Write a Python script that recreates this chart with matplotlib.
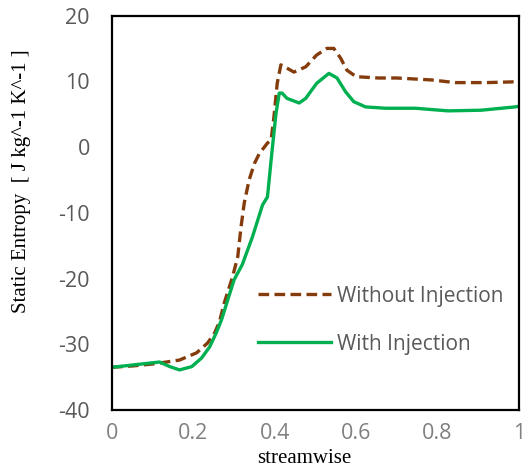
import matplotlib.pyplot as plt
import matplotlib.ticker as mticker

plt.rcParams["axes.unicode_minus"] = False

# Without injection
x_without = [0.0, 0.05, 0.10, 0.134, 0.166, 0.208, 0.235, 0.252, 0.264, 0.276, 0.296, 0.309,
             0.317, 0.325, 0.337, 0.35, 0.362, 0.382, 0.391, 0.398, 0.406, 0.415, 0.430,
             0.447, 0.476, 0.503, 0.528, 0.545, 0.562, 0.577, 0.60, 0.655, 0.70, 0.786,
             0.843, 0.92, 0.98, 1.0]
y_without = [-33.5, -33.3, -33.0, -32.7, -32.4, -31.3, -29.8, -28.3, -26.6, -23.7, -19.8, -16.7,
             -12.2, -8.5, -5.0, -2.5, -1.0, 0.6, 1.1, 4.6, 9.7, 12.5, 12.0,
             11.4, 12.2, 14.0, 15.0, 15.0, 13.5, 11.7, 10.7, 10.5, 10.5, 10.2,
             9.8, 9.8, 9.9, 10.0]

# With injection
x_with = [0.0, 0.044, 0.117, 0.142, 0.166, 0.196, 0.22, 0.24, 0.256, 0.269, 0.30, 0.32,
          0.345, 0.37, 0.382, 0.391, 0.396, 0.403, 0.411, 0.418, 0.430, 0.46, 0.476,
          0.503, 0.533, 0.553, 0.574, 0.594, 0.623, 0.672, 0.745, 0.826, 0.907, 0.99, 1.0]
y_with = [-33.5, -33.2, -32.7, -33.4, -33.9, -33.4, -32.1, -30.4, -28.3, -26.3, -20.2, -17.9,
          -13.7, -8.8, -7.6, -2.0, 1.0, 5.1, 8.2, 8.2, 7.4, 6.7, 7.4,
          9.7, 11.2, 10.5, 8.4, 6.9, 6.1, 5.9, 5.9, 5.5, 5.6, 6.1, 6.2]

fig = plt.figure(figsize=(5.23, 4.71), dpi=100)
ax = fig.add_axes([0.2141, 0.1295, 0.7782, 0.8375])

ax.plot(x_without, y_without, color="#843C0C", linewidth=2.4, dashes=(3.2, 1.6),
        label="Without Injection")
ax.plot(x_with, y_with, color="#00B050", linewidth=2.4, label="With Injection")

ax.set_xlim(0, 1)
ax.set_ylim(-40, 20)
ax.xaxis.set_major_locator(mticker.MultipleLocator(0.2))
ax.yaxis.set_major_locator(mticker.MultipleLocator(10))
ax.xaxis.set_major_formatter(mticker.FuncFormatter(lambda v, _: f"{v:g}"))
ax.tick_params(length=0)
ax.tick_params(axis="x", pad=9)
ax.tick_params(axis="y", pad=16)
for lab in ax.get_xticklabels():
    lab.set_fontfamily("Open Sans")
    lab.set_fontsize(15.5)
    lab.set_color("#808080")
for lab in ax.get_yticklabels():
    lab.set_fontfamily("Open Sans")
    lab.set_fontsize(15.5)
    lab.set_color("#595959")

for s in ax.spines.values():
    s.set_linewidth(1.6)
    s.set_color("black")

ax.set_xlabel("streamwise", fontfamily="Liberation Serif", fontsize=15)
ax.xaxis.set_label_coords(0.472, -0.10)
ax.set_ylabel("Static Entropy  [ J kg^-1 K^-1 ]", fontfamily="Liberation Serif",
              fontsize=15)
ax.yaxis.set_label_coords(-0.2, 0.58)

leg = ax.legend(loc="center left", bbox_to_anchor=(0.359, 0.228), frameon=False,
                prop={"family": "Open Sans", "size": 15}, handlelength=3.5,
                handletextpad=0.3, labelspacing=1.3, borderaxespad=0, borderpad=0)
for t in leg.get_texts():
    t.set_color("#595959")

plt.savefig("out.png", dpi=100)
